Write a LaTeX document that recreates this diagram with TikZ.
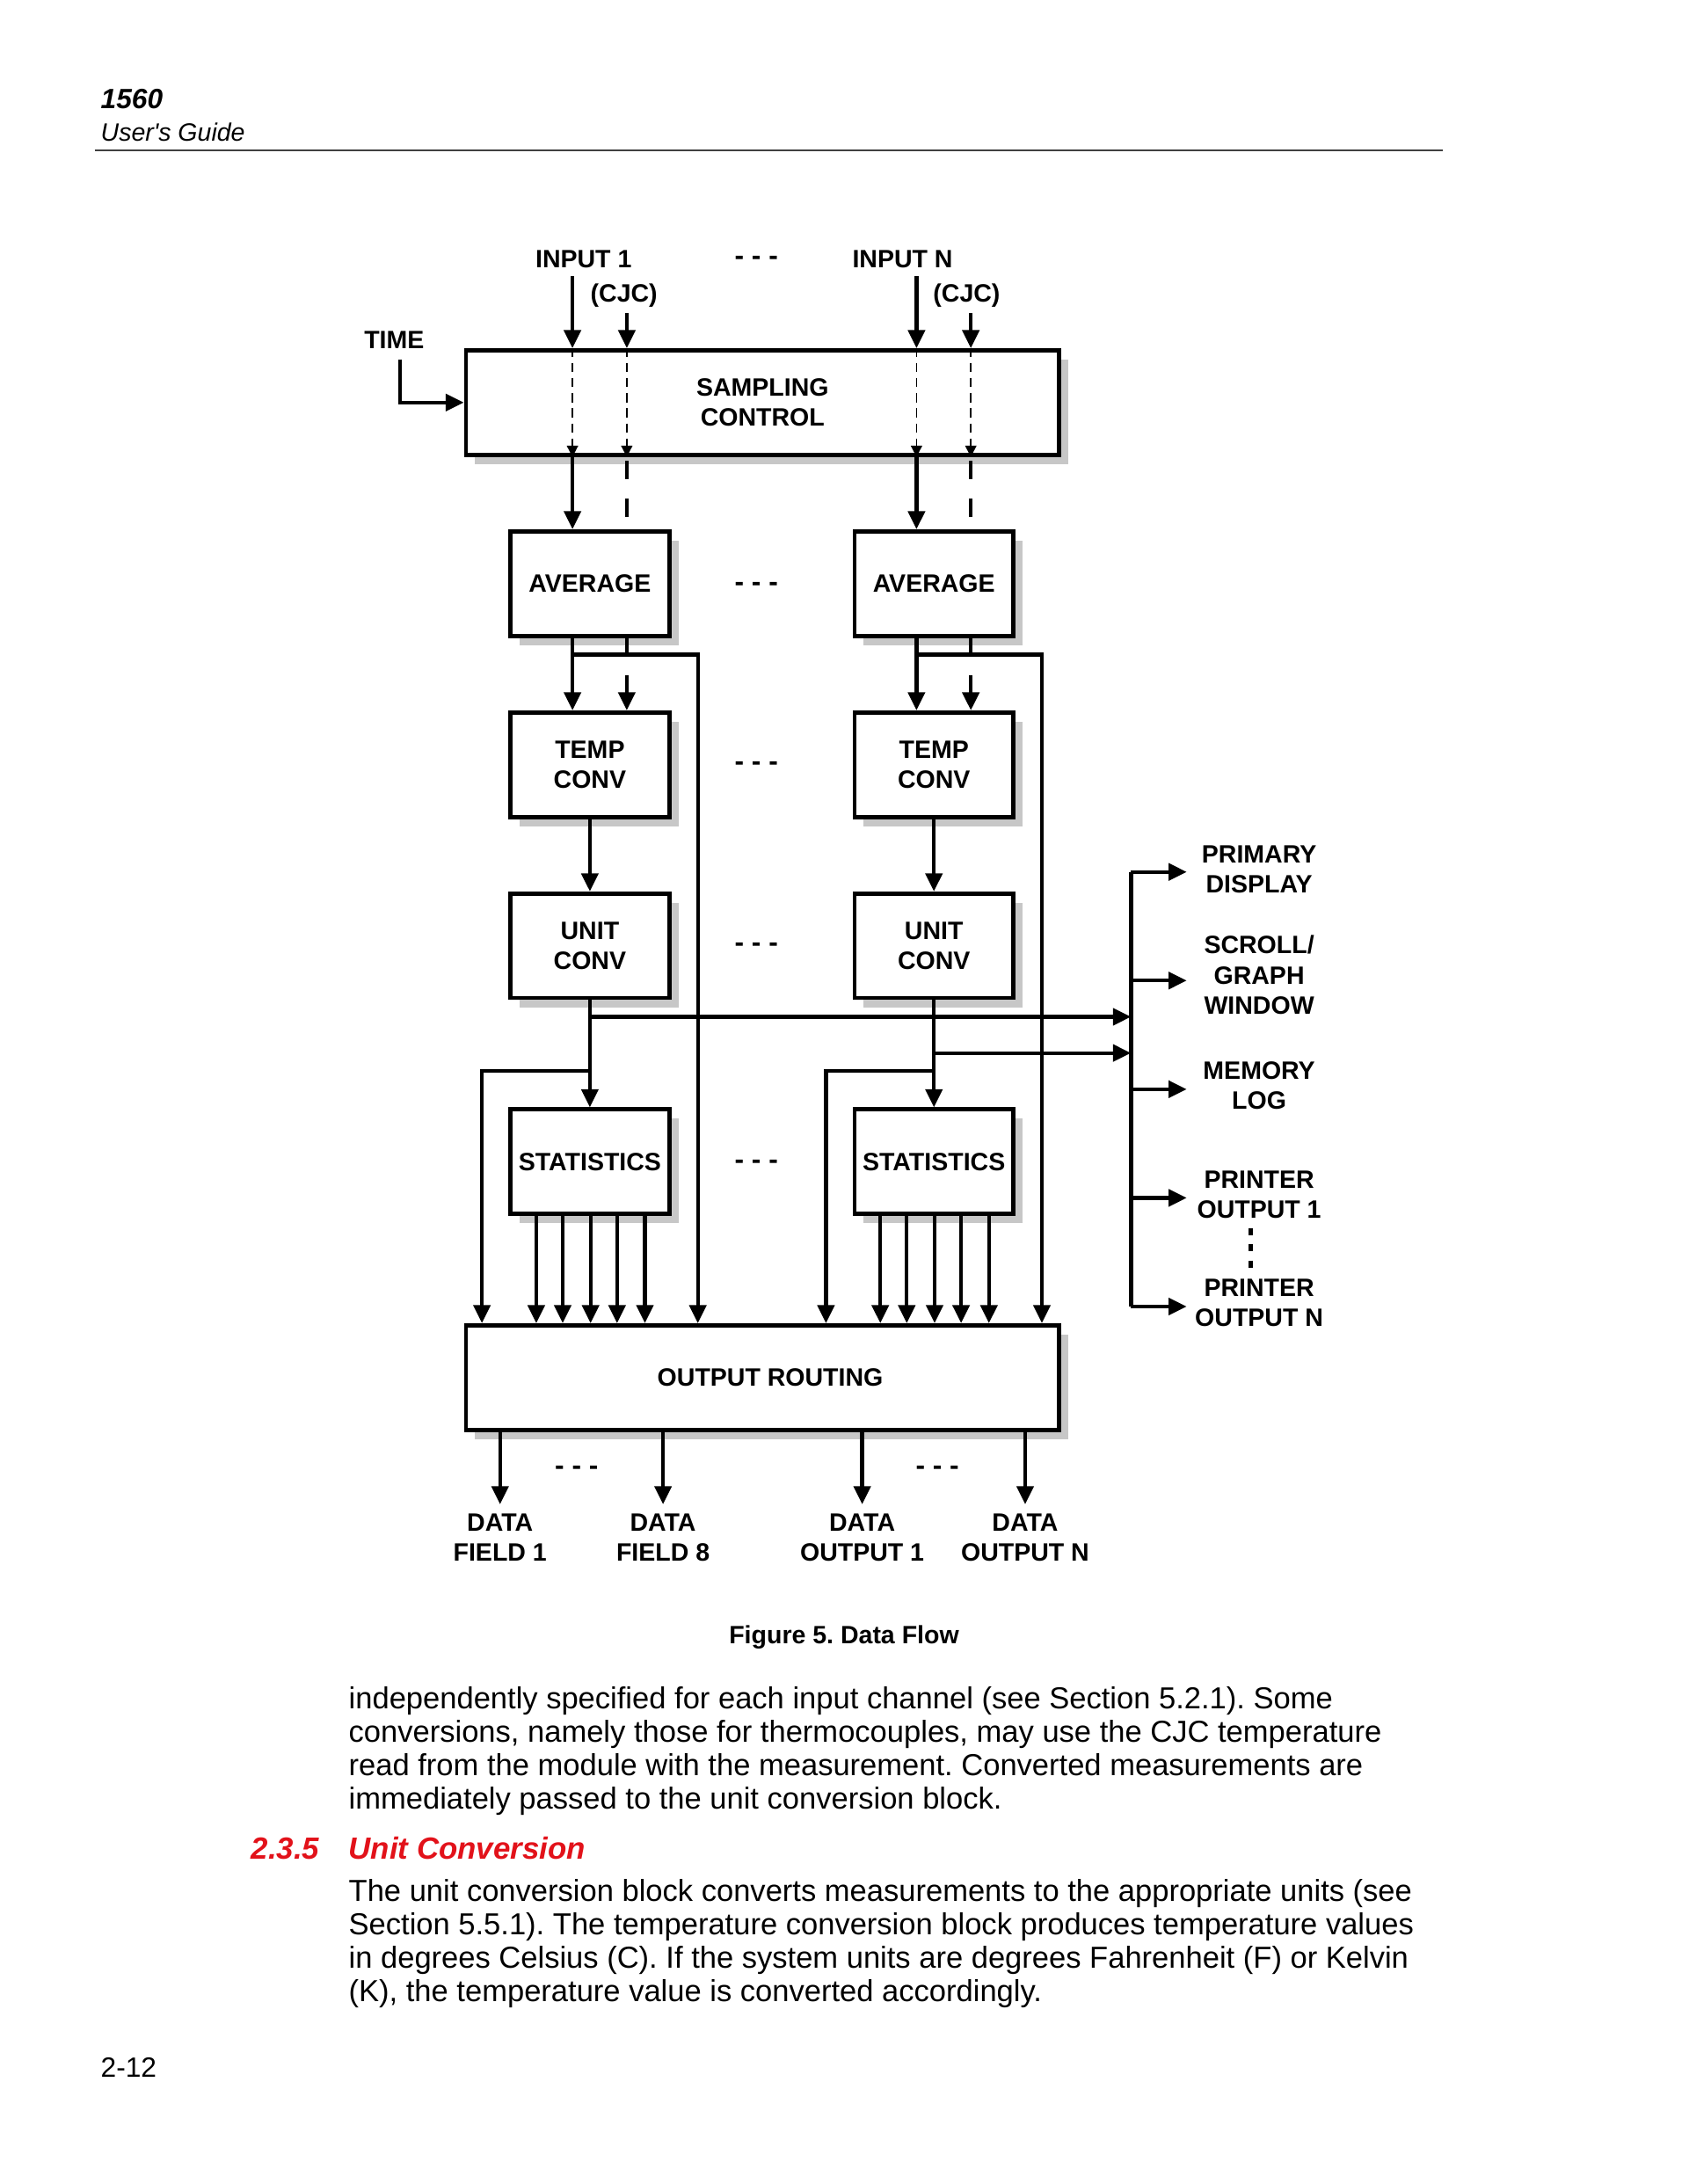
\documentclass[tikz,border=0pt]{standalone}
\usepackage{fontspec}
\setmainfont{Liberation Sans}
\usetikzlibrary{arrows.meta,shadows,calc}
\definecolor{hdred}{RGB}{226,18,26}
\newcommand{\dgfont}{\bfseries\fontsize{9bp}{10.8bp}\selectfont}
\newcommand{\bodyfont}{\fontsize{10.9bp}{12bp}\selectfont}
\frenchspacing
\begin{document}
\frenchspacing
\begin{tikzpicture}[x=0.5bp,y=-0.5bp,
  box/.style={draw,line width=1.5bp,fill=white,minimum width=57bp,minimum height=37.5bp,
    align=center,inner sep=0pt,font=\dgfont,
    drop shadow={shadow xshift=3.3bp,shadow yshift=-3.3bp,fill=black!22,opacity=1}},
  wbox/.style={box,minimum width=213bp},
  arr/.style={line width=1.35bp,-{Triangle[length=6.5bp,width=6bp]}},
  ln/.style={line width=1.35bp},
  sarr/.style={line width=0.55bp,dash pattern=on 3.2bp off 2.2bp,-{Triangle[length=4bp,width=4bp]}},
  lbl/.style={font=\dgfont,align=center,inner sep=0pt},
  ell/.style={font=\bfseries\fontsize{10bp}{12bp}\selectfont,inner sep=0pt},
  body/.style={anchor=base west,inner sep=0pt,font=\bodyfont},
]
\fill[white] (0,0) rectangle (1212,1568);
\useasboundingbox (0,0) rectangle (1212,1568);

% header
\node[anchor=base west,inner sep=0pt,font=\bfseries\itshape\fontsize{10bp}{12bp}\selectfont] (h1) at (72,78) {1560};
\node[anchor=base west,inner sep=0pt,font=\itshape\fontsize{9bp}{11bp}\selectfont] (h2) at (72,101) {User\textquotesingle s Guide};
\draw[line width=0.75bp,black!75] (68,108) -- (1036,108);

% boxes
\node[wbox] (samp) at (547.5,289) {SAMPLING\\CONTROL};
\node[box] (avg1) at (423.5,419) {AVERAGE};
\node[box] (avgN) at (670.5,419) {AVERAGE};
\node[box] (tmp1) at (423.5,549) {TEMP\\CONV};
\node[box] (tmpN) at (670.5,549) {TEMP\\CONV};
\node[box] (unt1) at (423.5,679) {UNIT\\CONV};
\node[box] (untN) at (670.5,679) {UNIT\\CONV};
\node[box] (sta1) at (423.5,834) {STATISTICS};
\node[box] (staN) at (670.5,834) {STATISTICS};
\node[wbox] (rout) at (547.5,989) {\hspace*{5.5bp}OUTPUT ROUTING};

% ellipses
\node[ell] (e0) at (543,187) {- - -};
\node[ell] (e1) at (543,421) {- - -};
\node[ell] (e2) at (543,550) {- - -};
\node[ell] (e3) at (543,680) {- - -};
\node[ell] (e4) at (543,836) {- - -};
\node[ell] (e5) at (414,1056) {- - -};
\node[ell] (e6) at (673,1056) {- - -};

% top labels
\node[lbl] (in1) at (419,186) {INPUT 1};
\node[lbl] (inN) at (648,186) {INPUT N};
\node[lbl] (cjc1) at (448,212) {(CJC)};
\node[lbl] (cjcN) at (694,212) {(CJC)};
\node[lbl] (time) at (283,244) {TIME};

\coordinate (a1) at (411,198);
\coordinate (j1) at (450,225);
\coordinate (aN) at (658,198);
\coordinate (jN) at (697,225);
\coordinate (t0) at (287,258);

% inputs
\draw[arr] (a1) -- (a1 |- samp.north);
\draw[arr] (j1) -- (j1 |- samp.north);
\draw[arr] (aN) -- (aN |- samp.north);
\draw[arr] (jN) -- (jN |- samp.north);
\draw[arr] (t0) |- (samp.west);

% through sampling
\foreach \c in {a1,j1,aN,jN}{
  \draw[sarr] (\c |- samp.north) -- (\c |- samp.south);
}

% sampling -> average
\draw[arr] (a1 |- samp.south) -- (a1 |- avg1.north);
\draw[arr] (aN |- samp.south) -- (aN |- avgN.north);
\draw[ln,dash pattern=on 6.5bp off 7bp] ($(j1 |- samp.south)+(0,3)$) -- ++(0,40);
\draw[ln,dash pattern=on 6.5bp off 7bp] ($(jN |- samp.south)+(0,3)$) -- ++(0,40);

% average -> temp conv, and bypass to routing
\draw[arr] (a1 |- avg1.south) -- (a1 |- tmp1.north);
\draw[arr] (a1 |- 0,470) -- (501,470) -- (501,0 |- rout.north);
\draw[ln] (j1 |- avg1.south) -- (j1 |- 0,470);
\draw[arr] (j1 |- 0,485) -- (j1 |- tmp1.north);

\draw[arr] (aN |- avgN.south) -- (aN |- tmpN.north);
\draw[arr] (aN |- 0,470) -- (748,470) -- (748,0 |- rout.north);
\draw[ln] (jN |- avgN.south) -- (jN |- 0,470);
\draw[arr] (jN |- 0,485) -- (jN |- tmpN.north);

% temp -> unit -> statistics
\draw[arr] (tmp1.south) -- (unt1.north);
\draw[arr] (tmpN.south) -- (untN.north);
\draw[arr] (unt1.south) -- (sta1.north);
\draw[arr] (untN.south) -- (staN.north);

% output bus
\coordinate (busT) at (812,626);
\coordinate (busB) at (812,938);
\draw[ln] (busT) -- (busB);
\draw[arr] (unt1.south |- 0,730) -- (busT |- 0,730);
\draw[arr] (untN.south |- 0,756) -- (busT |- 0,756);

% unit conv bypass to routing
\draw[arr] (unt1.south |- 0,769) -- (346,769) -- (346,0 |- rout.north);
\draw[arr] (untN.south |- 0,769) -- (593,769) -- (593,0 |- rout.north);

% statistics -> routing
\foreach \dx in {-38.5,-19.5,0.5,19.5,39.5}{
  \draw[arr] ($(sta1.south)+(\dx,0)$) -- ($(rout.north -| sta1.south)+(\dx,0)$);
  \draw[arr] ($(staN.south)+(\dx,0)$) -- ($(rout.north -| staN.south)+(\dx,0)$);
}

% right-hand outputs
\node[lbl] (pd) at (904,624) {PRIMARY\\DISPLAY};
\node[lbl] (sg) at (904,700) {SCROLL/\\GRAPH\\WINDOW};
\node[lbl] (ml) at (904,779.5) {MEMORY\\LOG};
\node[lbl] (p1) at (904,857.5) {PRINTER\\OUTPUT 1};
\node[lbl] (pN) at (904,935.5) {PRINTER\\OUTPUT N};
\foreach \yy in {626,704,782,860,938}{
  \draw[arr] (busT |- 0,\yy) -- (852,\yy);
}
\draw[line width=1.5bp,dash pattern=on 2.5bp off 3.25bp] (898,882) -- (898,910);

% routing outputs
\node[lbl] (df1) at (359,1104) {DATA\\FIELD 1};
\node[lbl] (df8) at (476,1104) {DATA\\FIELD 8};
\node[lbl] (do1) at (619,1104) {DATA\\OUTPUT 1};
\node[lbl] (doN) at (736,1104) {DATA\\OUTPUT N};
\foreach \n in {df1,df8,do1,doN}{
  \draw[arr] (\n.north |- rout.south) -- (\n.north |- 0,1080);
}

% caption
\node[anchor=base,inner sep=0pt,font=\bfseries\fontsize{9bp}{11bp}\selectfont] (cap) at (606,1180) {Figure 5. Data Flow};

% body text
\node[body] (l1) at (250,1227) {independently specified for each input channel (see Section 5.2.1). Some};
\node[body] (l2) at (250,1251) {conversions, namely those for thermocouples, may use the CJC temperature};
\node[body] (l3) at (250,1275) {read from the module with the measurement. Converted measurements are};
\node[body] (l4) at (250,1299) {immediately passed to the unit conversion block.};
\node[anchor=base west,inner sep=0pt,text=hdred,font=\bfseries\itshape\fontsize{11bp}{13bp}\selectfont] (hn) at (180,1335) {2.3.5};
\node[anchor=base west,inner sep=0pt,text=hdred,font=\bfseries\itshape\fontsize{11bp}{13bp}\selectfont] (ht) at (250,1335) {Unit Conversion};
\node[body] (m1) at (250,1365) {The unit conversion block converts measurements to the appropriate units (see};
\node[body] (m2) at (250,1389) {Section 5.5.1). The temperature conversion block produces temperature values};
\node[body] (m3) at (250,1413) {in degrees Celsius (C). If the system units are degrees Fahrenheit (F) or Kelvin};
\node[body] (m4) at (250,1437) {(K), the temperature value is converted accordingly.};

% page number
\node[anchor=base west,inner sep=0pt,font=\fontsize{10bp}{12bp}\selectfont] (pg) at (72,1491) {2-12};
\end{tikzpicture}
\end{document}
